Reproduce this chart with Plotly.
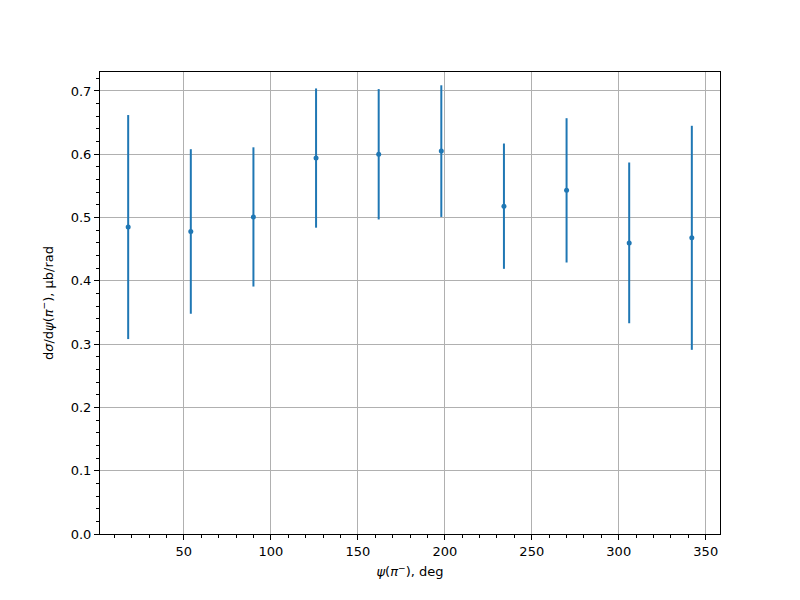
import plotly.graph_objects as go

psi_deg = [18, 54, 90, 126, 162, 198, 234, 270, 306, 342]
dsigma = [0.485, 0.478, 0.501, 0.594, 0.600, 0.605, 0.518, 0.543, 0.460, 0.468]
err = [0.177, 0.130, 0.110, 0.110, 0.103, 0.104, 0.099, 0.114, 0.127, 0.177]

fig = go.Figure()
fig.add_trace(go.Scatter(
    x=psi_deg, y=dsigma, mode="markers",
    marker=dict(color="#1f77b4", size=5),
    error_y=dict(type="data", array=err, visible=True, color="#1f77b4",
                 thickness=2, width=0),
    showlegend=False,
))

axis_common = dict(
    showline=True, linecolor="black", linewidth=1, mirror=True,
    ticks="outside", ticklen=5, tickwidth=1, tickcolor="black",
    showgrid=True, gridcolor="#b0b0b0", gridwidth=1,
    zeroline=False,
    tickfont=dict(family="DejaVu Sans", size=13, color="black"),
)

fig.update_layout(
    width=800, height=600,
    paper_bgcolor="white", plot_bgcolor="white",
    margin=dict(l=92, r=88, t=64, b=74),
    font=dict(family="DejaVu Sans", size=13, color="black"),
    xaxis=dict(
        range=[1.8, 358.2], tickmode="array",
        tickvals=[50, 100, 150, 200, 250, 300, 350],
        minor=dict(ticks="outside", ticklen=3, tickcolor="black", dtick=10, tick0=0, showgrid=False),
        title=dict(text="<i>ψ</i>(<i>π</i><sup>−</sup>), deg", standoff=9,
                   font=dict(family="DejaVu Sans", size=13)),
        **axis_common,
    ),
    yaxis=dict(
        range=[0, 0.73], tickmode="array",
        tickvals=[0, 0.1, 0.2, 0.3, 0.4, 0.5, 0.6, 0.7],
        ticktext=["0.0", "0.1", "0.2", "0.3", "0.4", "0.5", "0.6", "0.7"],
        minor=dict(ticks="outside", ticklen=3, tickcolor="black", dtick=0.02, tick0=0, showgrid=False),
        title=dict(text="d<i>σ</i>/d<i>ψ</i>(<i>π</i><sup>−</sup>), μb/rad", standoff=14,
                   font=dict(family="DejaVu Sans", size=13)),
        **axis_common,
    ),
)

fig.write_html("out.html")
